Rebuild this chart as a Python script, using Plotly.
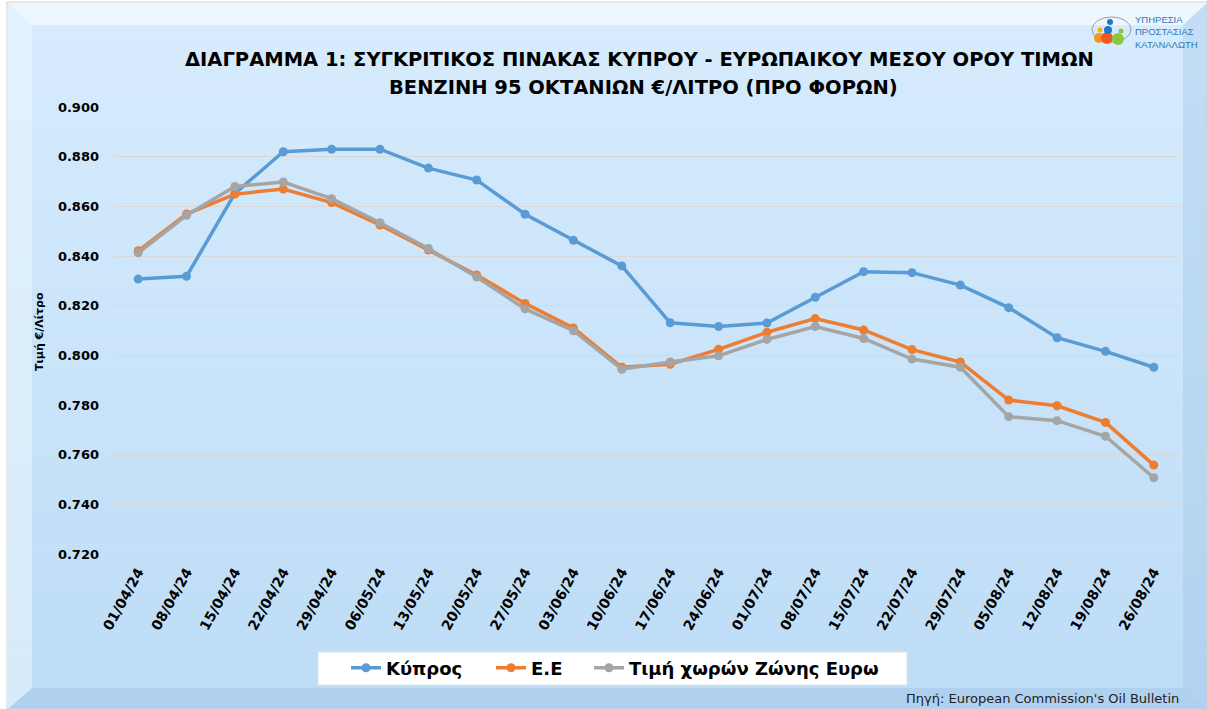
import plotly.graph_objects as go

# week labels
dates = ["01/04/24", "08/04/24", "15/04/24", "22/04/24", "29/04/24", "06/05/24",
         "13/05/24", "20/05/24", "27/05/24", "03/06/24", "10/06/24", "17/06/24",
         "24/06/24", "01/07/24", "08/07/24", "15/07/24", "22/07/24", "29/07/24",
         "05/08/24", "12/08/24", "19/08/24", "26/08/24"]

# prices before taxes, EUR / litre
cyprus = [0.8307, 0.8318, 0.8652, 0.8820, 0.8830, 0.8830, 0.8754, 0.8706, 0.8568,
          0.8463, 0.8360, 0.8131, 0.8116, 0.8130, 0.8234, 0.8337, 0.8333, 0.8283,
          0.8192, 0.8071, 0.8016, 0.7952]
eu = [0.8421, 0.8569, 0.8649, 0.8670, 0.8615, 0.8525, 0.8424, 0.8323, 0.8209,
      0.8110, 0.7952, 0.7964, 0.8024, 0.8093, 0.8148, 0.8102, 0.8023, 0.7973,
      0.7820, 0.7797, 0.7730, 0.7558]
eurozone = [0.8413, 0.8564, 0.8680, 0.8698, 0.8631, 0.8534, 0.8430, 0.8315, 0.8187,
            0.8099, 0.7944, 0.7973, 0.7998, 0.8064, 0.8116, 0.8068, 0.7985, 0.7952,
            0.7753, 0.7737, 0.7674, 0.7507]

series_names = ["Κύπρος", "Ε.Ε", "Τιμή χωρών Ζώνης Ευρω"]
series_colors = ["#5b9bd5", "#ed7d31", "#a5a5a5"]

y_ticks = [0.72, 0.74, 0.76, 0.78, 0.80, 0.82, 0.84, 0.86, 0.88, 0.90]

W, H = 1207, 709
L, R, T, B = 114, 29, 107, 155
PW, PH = W - L - R, H - T - B
FONT = "DejaVu Sans"


def px(x):
    return (x - L) / PW


def py(y):
    return (H - B - y) / PH


fig = go.Figure()

# each series gets its own legend so the entries can sit where the original has them
legend_ids = ["legend", "legend2", "legend3"]
legend_x = [351, 496, 594]
for name, vals, col, lg in zip(series_names, [cyprus, eu, eurozone], series_colors, legend_ids):
    fig.add_trace(go.Scatter(
        x=dates, y=vals, name=name, mode="lines+markers",
        line=dict(color=col, width=3.5),
        marker=dict(color=col, size=9),
        legend=lg,
    ))

shapes = []

# background gradient (light blue, darker toward the bottom)
top_c = (215, 236, 253)
bot_c = (189, 220, 246)
n = 60
for i in range(n):
    t = i / (n - 1)
    c = tuple(round(a + (b - a) * t) for a, b in zip(top_c, bot_c))
    y0 = 3 + (709 - 3) * i / n
    y1 = 3 + (709 - 3) * (i + 1) / n + 0.5
    shapes.append(dict(type="rect", xref="paper", yref="paper", layer="below",
                       x0=px(8), x1=px(1207), y0=py(y0), y1=py(y1),
                       fillcolor="rgb(%d,%d,%d)" % c, line_width=0))

# bevel edges
def quad(pts, fill):
    d = "M " + " L ".join("%f,%f" % (px(a), py(b)) for a, b in pts) + " Z"
    shapes.append(dict(type="path", xref="paper", yref="paper", layer="below",
                       path=d, fillcolor=fill, line_width=0))

quad([(8, 3), (1207, 3), (1183, 25), (32, 25)], "rgba(255,255,255,0.6)")
quad([(8, 3), (32, 25), (32, 688), (8, 709)], "rgba(235,247,255,0.55)")
quad([(8, 709), (32, 688), (1183, 688), (1207, 709)], "rgba(150,190,225,0.35)")
quad([(1207, 3), (1207, 709), (1183, 688), (1183, 25)], "rgba(150,190,225,0.30)")

shapes.append(dict(type="rect", xref="paper", yref="paper", layer="below",
                   x0=px(7), x1=px(1207), y0=py(2), y1=py(709),
                   fillcolor="rgba(0,0,0,0)", line=dict(color="#d0d0d0", width=1)))

# white legend box
shapes.append(dict(type="rect", xref="paper", yref="paper", layer="below",
                   x0=px(318), x1=px(907), y0=py(685), y1=py(652),
                   fillcolor="white", line=dict(color="#e2e2e2", width=1)))

# logo
shapes.append(dict(type="circle", xref="paper", yref="paper", layer="above",
                   x0=px(1092), x1=px(1131), y0=py(42), y1=py(17),
                   fillcolor="rgba(0,0,0,0)", line=dict(color="#9a9a9a", width=1)))
for cx, cy, r, col in [(1099, 38, 5, "#f7931e"), (1107, 38, 6, "#f15a24"),
                       (1118, 39, 6, "#8cc63f"), (1108, 30, 4, "#1f78c8"),
                       (1110, 22, 3, "#1f78c8"), (1100, 30, 2.5, "#f7b500"),
                       (1121, 31, 2.5, "#8cc63f")]:
    shapes.append(dict(type="circle", xref="paper", yref="paper", layer="above",
                       x0=px(cx - r), x1=px(cx + r), y0=py(cy + r), y1=py(cy - r),
                       fillcolor=col, line_width=0))

annotations = [
    dict(text="ΔΙΑΓΡΑΜΜΑ 1: ΣΥΓΚΡΙΤΙΚΟΣ ΠΙΝΑΚΑΣ ΚΥΠΡΟΥ - ΕΥΡΩΠΑΙΚΟΥ ΜΕΣΟΥ ΟΡΟΥ ΤΙΜΩΝ",
         x=px(639), y=py(60), xref="paper", yref="paper", showarrow=False,
         xanchor="center", yanchor="middle",
         font=dict(family=FONT, size=19.5, color="black", weight="bold")),
    dict(text="ΒΕΝΖΙΝΗ 95 ΟΚΤΑΝΙΩΝ €/ΛΙΤΡΟ (ΠΡΟ ΦΟΡΩΝ)",
         x=px(643), y=py(87), xref="paper", yref="paper", showarrow=False,
         xanchor="center", yanchor="middle",
         font=dict(family=FONT, size=19.5, color="black", weight="bold")),
    dict(text="Τιμή €/Λίτρο", textangle=-90,
         x=px(39), y=py(332), xref="paper", yref="paper", showarrow=False,
         xanchor="center", yanchor="middle",
         font=dict(family=FONT, size=11, color="black", weight="bold")),
    dict(text="Πηγή: European Commission's Oil Bulletin",
         x=px(1181), y=py(698), xref="paper", yref="paper", showarrow=False,
         xanchor="right", yanchor="middle",
         font=dict(family=FONT, size=13, color="#222222")),
    dict(text="ΥΠΗΡΕΣΙΑ<br>ΠΡΟΣΤΑΣΙΑΣ<br>ΚΑΤΑΝΑΛΩΤΗ", align="left",
         x=px(1133), y=py(32), xref="paper", yref="paper", showarrow=False,
         xanchor="left", yanchor="middle",
         font=dict(family="Liberation Sans Narrow, Liberation Sans", size=9.5, color="#2a7ab8")),
]

legend_style = dict(orientation="h", xanchor="left", yanchor="middle",
                    bgcolor="rgba(0,0,0,0)", borderwidth=0,
                    font=dict(family=FONT, size=18, color="black", weight="bold"),
                    itemwidth=30)

fig.update_layout(
    width=W, height=H,
    margin=dict(l=L, r=R, t=T, b=B, autoexpand=False),
    paper_bgcolor="white", plot_bgcolor="rgba(0,0,0,0)",
    shapes=shapes, annotations=annotations,
    font=dict(family=FONT, color="black"),
    xaxis=dict(type="category", range=[-0.5, len(dates) - 0.5], tickangle=-61,
               showgrid=False, zeroline=False, showline=False, ticks="",
               ticklabelstandoff=6,
               tickfont=dict(family=FONT, size=14, color="black", weight="bold")),
    yaxis=dict(range=[0.72, 0.90], tickvals=y_ticks, tickformat=".3f",
               showgrid=True, gridcolor="#d9d9d9", gridwidth=1, zeroline=False,
               showline=False, ticks="", ticklabelstandoff=14,
               tickfont=dict(family=FONT, size=13, color="black", weight="bold")),
    showlegend=True,
)
for lg, lx in zip(legend_ids, legend_x):
    fig.update_layout({lg: dict(legend_style, x=px(lx - 5), y=py(668))})

fig.write_html("out.html", config={"displayModeBar": False},
               post_script="document.body.style.margin='0';document.body.style.overflow='hidden';")
